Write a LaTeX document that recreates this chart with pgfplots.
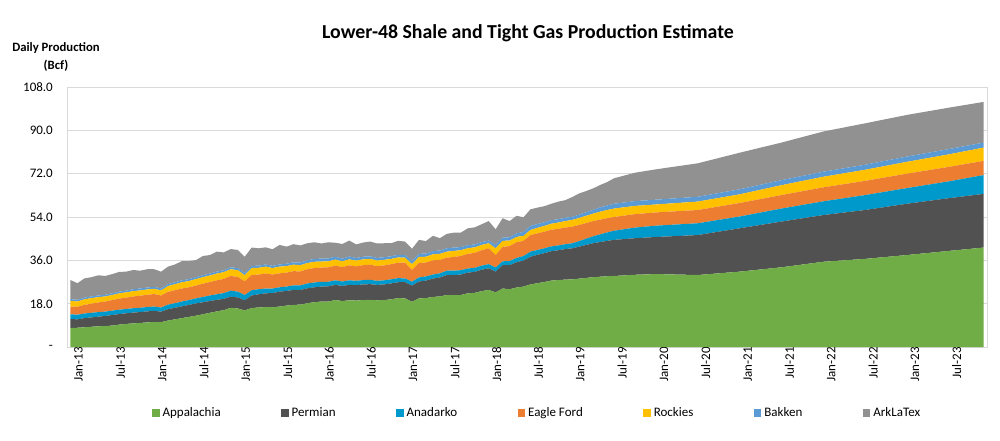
\documentclass[border=0pt]{standalone}
\usepackage{pgfplots}
\pgfplotsset{compat=1.18}
\usepackage{pgfplotstable}
\usepackage{fontspec}
\setmainfont{Carlito}
\definecolor{cApp}{HTML}{70AD47}
\definecolor{cPer}{HTML}{515151}
\definecolor{cAna}{HTML}{0099CC}
\definecolor{cEag}{HTML}{ED7D31}
\definecolor{cRoc}{HTML}{FFC000}
\definecolor{cBak}{HTML}{5B9BD5}
\definecolor{cArk}{HTML}{919191}
\definecolor{cGrid}{HTML}{D9D9D9}

\pgfplotstableread{
m G P A E R B K
0 7.9 3.7 2.0 3.2 2.4 0.7 7.9
1 8.0 3.5 1.9 3.3 2.2 0.7 6.9
2 8.2 3.8 1.9 3.6 2.3 0.7 8.0
3 8.4 3.9 1.9 3.8 2.3 0.7 8.0
4 8.6 4.0 1.9 4.0 2.2 0.7 8.4
5 8.7 4.2 1.8 4.2 2.1 0.7 7.8
6 8.9 4.4 1.8 4.4 2.1 0.7 8.0
7 9.3 4.4 1.8 4.6 2.2 0.7 8.2
8 9.6 4.4 1.8 4.7 2.2 0.7 7.9
9 9.8 4.5 1.8 4.9 2.2 0.8 8.0
10 10.0 4.5 1.8 5.0 2.2 0.8 7.4
11 10.2 4.6 1.8 5.1 2.2 0.8 7.6
12 10.4 4.6 1.8 5.2 2.2 0.8 7.3
13 10.3 4.4 1.7 5.0 2.1 0.8 7.0
14 11.0 4.7 1.9 5.3 2.4 0.8 7.3
15 11.5 4.8 1.9 5.4 2.5 0.8 7.4
16 12.0 4.9 2.0 5.4 2.6 0.8 8.0
17 12.5 5.0 2.0 5.3 2.6 0.8 7.5
18 13.0 5.1 2.1 5.3 2.7 0.8 7.1
19 13.6 5.0 2.2 5.5 2.7 0.8 8.0
20 14.2 4.9 2.3 5.6 2.7 0.8 7.7
21 14.8 4.8 2.3 5.8 2.8 0.8 8.3
22 15.3 4.7 2.4 5.9 2.8 0.8 7.4
23 16.3 4.6 2.5 6.1 2.8 0.8 7.6
24 16.0 4.6 2.4 6.1 2.8 0.9 7.5
25 15.2 4.2 2.2 5.7 2.5 0.9 6.8
26 16.2 5.2 2.2 6.3 2.9 0.9 7.6
27 16.4 5.5 2.1 6.1 2.8 0.9 7.2
28 16.6 5.7 2.0 6.2 2.9 0.9 7.1
29 16.5 5.9 1.9 5.8 2.7 0.9 6.9
30 16.8 6.2 1.8 5.8 2.8 0.9 8.1
31 17.2 6.1 1.8 5.8 2.7 1.0 7.1
32 17.5 6.2 1.9 5.9 2.7 1.0 7.5
33 17.6 6.1 1.9 5.8 2.6 1.1 7.1
34 18.2 6.2 2.0 5.9 2.6 1.1 7.1
35 18.6 6.2 2.0 6.0 2.6 1.2 6.9
36 18.9 6.2 2.0 5.9 2.5 1.2 6.3
37 18.9 6.3 1.9 6.0 2.5 1.2 6.7
38 19.5 6.3 1.9 6.1 2.5 1.2 5.8
39 19.1 6.3 1.8 6.0 2.4 1.1 6.1
40 19.4 6.4 1.9 6.2 2.5 1.2 6.6
41 19.3 6.4 1.8 6.0 2.4 1.1 5.6
42 19.5 6.5 1.8 6.2 2.4 1.1 5.9
43 19.6 6.5 1.8 6.3 2.4 1.1 6.1
44 19.4 6.4 1.7 6.1 2.3 1.1 6.0
45 19.5 6.5 1.7 6.2 2.3 1.1 5.8
46 19.8 6.6 1.7 6.3 2.2 1.1 5.4
47 20.3 6.6 1.7 6.4 2.2 1.1 5.8
48 20.2 6.7 1.6 6.5 2.1 1.1 5.6
49 18.8 6.7 1.6 4.9 2.4 1.3 5.1
50 20.2 7.0 1.7 6.0 2.5 1.3 5.8
51 20.3 7.3 1.7 5.8 2.4 1.3 5.2
52 20.8 7.6 1.7 5.9 2.5 1.3 6.4
53 21.0 7.9 1.7 5.6 2.5 1.4 5.1
54 21.6 8.3 1.8 5.4 2.5 1.4 6.0
55 21.5 8.4 1.8 5.7 2.5 1.4 6.2
56 21.6 8.5 1.8 5.9 2.4 1.3 6.0
57 22.3 8.6 1.7 6.1 2.3 1.3 7.0
58 22.5 8.7 1.7 6.2 2.3 1.2 7.1
59 23.2 8.9 1.7 6.4 2.2 1.2 7.4
60 23.7 9.0 1.7 6.6 2.1 1.1 8.1
61 22.7 8.6 1.7 5.2 2.8 1.4 6.5
62 24.3 9.7 1.6 6.0 2.5 1.3 8.1
63 24.0 10.0 1.7 6.2 2.3 1.4 6.7
64 24.7 10.5 1.8 6.5 2.2 1.5 7.3
65 25.1 10.8 1.9 6.3 2.1 1.6 6.1
66 26.0 11.5 2.1 6.9 2.1 1.7 6.9
67 26.5 11.8 2.0 6.9 2.3 1.6 6.8
68 27.0 12.0 2.0 6.9 2.4 1.5 6.7
69 27.6 12.2 2.0 6.9 2.5 1.5 6.8
70 27.8 12.4 2.0 6.9 2.6 1.4 7.3
71 28.0 12.7 2.0 6.9 2.7 1.4 7.3
72 28.1 12.9 2.1 6.9 2.8 1.3 8.2
73 28.4 13.3 2.3 6.7 2.9 1.4 8.8
74 28.7 13.7 2.6 6.5 3.0 1.5 8.8
75 29.0 14.1 2.9 6.3 3.1 1.6 8.9
76 29.2 14.4 3.2 6.1 3.3 1.8 9.3
77 29.4 14.7 3.5 5.9 3.4 1.9 9.7
78 29.5 15.0 3.8 5.7 3.5 2.0 10.6
81 30.0 15.2 4.4 5.6 3.4 2.0 11.8
84 30.3 15.4 4.7 5.5 3.3 2.0 12.6
90 29.9 16.6 4.9 5.5 3.5 2.0 13.9
96 31.3 18.0 4.9 5.6 3.6 2.1 15.2
102 33.1 19.0 5.4 5.6 4.1 2.1 15.6
108 35.4 19.4 5.7 5.8 4.4 2.1 16.7
114 36.6 20.3 6.2 5.9 4.6 2.1 17.2
120 38.2 21.3 6.5 6.0 4.9 2.2 17.3
126 39.9 21.9 7.0 6.0 5.2 2.2 17.2
131 41.3 22.3 7.8 5.9 5.5 2.1 16.9
}\datatable

\begin{document}
\begin{tikzpicture}[x=1pt,y=1pt]
\useasboundingbox (0,0) rectangle (1000,440);
\node[font=\bfseries\fontsize{19.8}{23}\selectfont] at (528,407) {Lower-48 Shale and Tight Gas Production Estimate};
\node[font=\bfseries\fontsize{12.7}{18}\selectfont, align=center] at (56,383) {Daily Production\\(Bcf)};
\begin{axis}[
  at={(67pt,93pt)}, anchor=south west,
  width=920pt, height=260pt, scale only axis,
  xmin=-0.5, xmax=131.5, ymin=0, ymax=108,
  stack plots=y,
  axis line style={draw=cGrid},
  major tick length=0pt,
  ymajorgrids, grid style={draw=cGrid, line width=0.8pt},
  ytick={0,18,36,54,72,90,108},
  yticklabels={-\hspace{5pt},18.0,36.0,54.0,72.0,90.0,108.0},
  yticklabel style={font=\fontsize{13}{15}\selectfont, anchor=east, inner sep=0pt, xshift=-14pt},
  xtick={0,6,...,126},
  xticklabels={Jan-13,Jul-13,Jan-14,Jul-14,Jan-15,Jul-15,Jan-16,Jul-16,Jan-17,Jul-17,Jan-18,Jul-18,Jan-19,Jul-19,Jan-20,Jul-20,Jan-21,Jul-21,Jan-22,Jul-22,Jan-23,Jul-23},
  xticklabel style={font=\fontsize{13}{15}\selectfont, rotate=90, anchor=east, inner sep=0pt, yshift=-8pt},
  legend columns=7,
  legend style={at={(0.511,-0.254)}, anchor=center, draw=none, fill=none,
    font=\fontsize{13}{15}\selectfont,
    /tikz/every even column/.append style={column sep=58.5pt},
    /tikz/every odd column/.append style={column sep=1pt}},
  legend image code/.code={\fill[#1] (0pt,-3.5pt) rectangle (7.5pt,4pt);},
]
\addplot[fill=cApp, draw=none] table[x=m,y=G]{\datatable} \closedcycle;
\addlegendentry{Appalachia}
\addplot[fill=cPer, draw=none] table[x=m,y=P]{\datatable} \closedcycle;
\addlegendentry{Permian}
\addplot[fill=cAna, draw=none] table[x=m,y=A]{\datatable} \closedcycle;
\addlegendentry{Anadarko}
\addplot[fill=cEag, draw=none] table[x=m,y=E]{\datatable} \closedcycle;
\addlegendentry{Eagle Ford}
\addplot[fill=cRoc, draw=none] table[x=m,y=R]{\datatable} \closedcycle;
\addlegendentry{Rockies}
\addplot[fill=cBak, draw=none] table[x=m,y=B]{\datatable} \closedcycle;
\addlegendentry{Bakken}
\addplot[fill=cArk, draw=none] table[x=m,y=K]{\datatable} \closedcycle;
\addlegendentry{ArkLaTex}
\end{axis}
\end{tikzpicture}
\end{document}
